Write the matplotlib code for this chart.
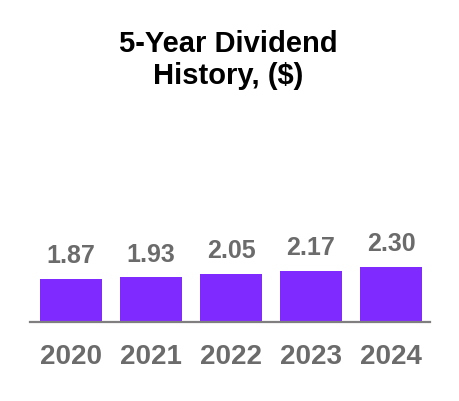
import matplotlib
matplotlib.use("Agg")
import matplotlib.pyplot as plt

years = ["2020", "2021", "2022", "2023", "2024"]
dividends = [1.87, 1.93, 2.05, 2.17, 2.30]

plt.rcParams["font.family"] = ["Liberation Sans", "DejaVu Sans"]

bar_color = "#7F2AFF"
label_gray = "#6B6B6B"


def main():
    fig = plt.figure(figsize=(4.6, 4.02), dpi=100)
    ax = fig.add_axes([30 / 460, 79 / 402, 400 / 460, 123 / 402])

    x = list(range(len(years)))
    bars = ax.bar(x, dividends, width=0.775, color=bar_color, bottom=0)

    for rect, val in zip(bars, dividends):
        ax.annotate(f"{val:.2f}", (rect.get_x() + rect.get_width() / 2, rect.get_height()),
                    xytext=(0, 12), textcoords="offset points", ha="center", va="baseline",
                    fontsize=18, fontweight="bold", color=label_gray)

    ax.set_xlim(-0.5125, 4.4875)
    ax.set_ylim(0.33, 4.74)

    for s in ["top", "left", "right"]:
        ax.spines[s].set_visible(False)
    ax.spines["bottom"].set_color("#7F7F7F")
    ax.spines["bottom"].set_linewidth(1.6)
    ax.set_yticks([])
    ax.set_xticks(x)
    ax.set_xticklabels(years, fontsize=20, fontweight="bold", color=label_gray)
    ax.tick_params(axis="x", length=0, pad=15)
    ax.patch.set_visible(False)

    fig.text(228 / 460, 1 - 60 / 402, "5-Year Dividend\nHistory, ($)", ha="center", va="center",
             fontsize=21, fontweight="bold", color="black", linespacing=1.2)

    fig.savefig("out.png", dpi=100)


if __name__ == "__main__":
    main()
